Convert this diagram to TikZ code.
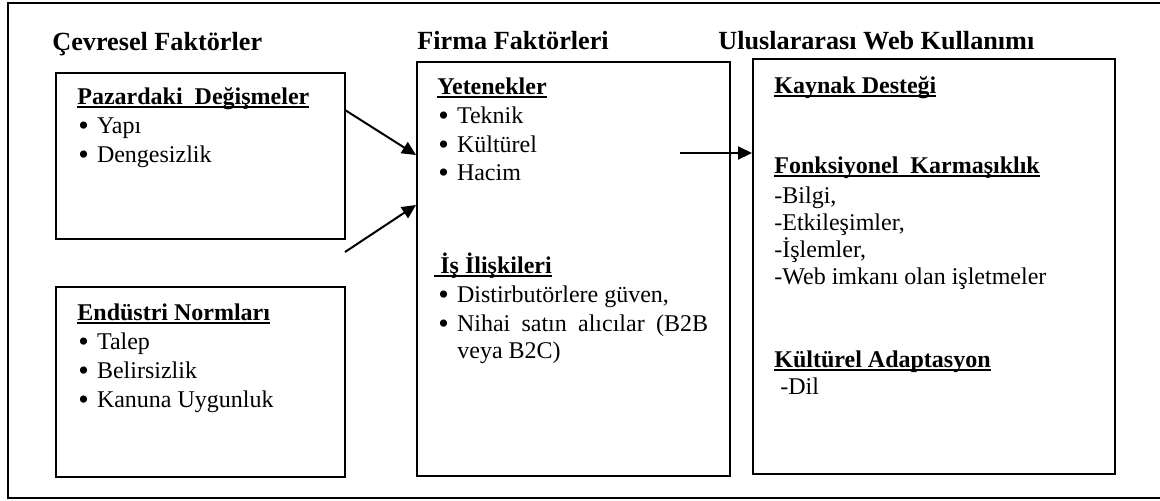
\documentclass[tikz,border=0pt]{standalone}
\usepackage{fontspec}
\setmainfont{Liberation Serif}
\usetikzlibrary{arrows.meta,fit}
\newcommand\myul[1]{\setbox0=\hbox{#1}\rlap{\rule[-2pt]{\wd0}{0.9pt}}\box0}
\newcommand\bul{\makebox[9.3pt][l]{\raisebox{-1.1pt}{\scalebox{1.25}{•}}}}
\begin{document}
\begin{tikzpicture}[x=0.5pt,y=-0.5pt,
  box/.style={draw,line width=1pt,inner sep=0pt},
  title/.style={anchor=base west,inner sep=0pt,font=\fontsize{13.1}{15}\selectfont\bfseries},
  txt/.style={anchor=base west,inner sep=0pt,font=\fontsize{12}{14}\selectfont},
  head/.style={anchor=base west,inner sep=0pt,font=\fontsize{12}{14}\selectfont\bfseries},
  arr/.style={line width=1pt,-{Triangle[length=7pt,width=6.5pt]}}]
\useasboundingbox (0,0) rectangle (1160,500);
% outer frame (right side lies beyond the picture)
\draw[line width=0.8pt] (1165,3) -- (8,3) -- (8,498) -- (1165,498);
% boxes
\node[box,fit={(56,73)(345,239)}] (b1) {};
\node[box,fit={(56,287)(345,477)}] (b2) {};
\node[box,fit={(417,62)(730,476)}] (b3) {};
\node[box,fit={(753,59)(1115,474)}] (b4) {};
% titles
\node[title] (t1) at (52,50) {Çevresel Faktörler};
\node[title] (t2) at (417,49) {Firma Faktörleri};
\node[title] (t3) at (718,49) {Uluslararası Web Kullanımı};
% box 1
\node[head] (h1) at (77,104) {\myul{Pazardaki\ \ Değişmeler}};
\node[txt] (i11) at (78,133) {\bul Yapı};
\node[txt] (i12) at (78,162) {\bul Dengesizlik};
% box 2
\node[head] (h2) at (77,320) {\myul{Endüstri Normları}};
\node[txt] (i21) at (78,349) {\bul Talep};
\node[txt] (i22) at (78,378) {\bul Belirsizlik};
\node[txt] (i23) at (78,407) {\bul Kanuna Uygunluk};
% box 3
\node[head] (h3) at (437,94) {\myul{Yetenekler}};
\node[txt] (i31) at (438,123) {\bul Teknik};
\node[txt] (i32) at (438,152) {\bul Kültürel};
\node[txt] (i33) at (438,180) {\bul Hacim};
\node[head] (h4) at (434,273) {\myul{ İş İlişkileri}};
\node[txt] (i34) at (438,302) {\bul Distirbutörlere güven,};
\node[txt] (i35) at (438,331) {\bul\makebox[125.5pt][s]{Nihai satın alıcılar (B2B}};
\node[txt] (i36) at (457,358) {veya B2C)};
% box 4
\node[head] (h5) at (774,93) {\myul{Kaynak Desteği}};
\node[head] (h6) at (774,173) {\myul{Fonksiyonel\ \ Karmaşıklık}};
\node[txt] (i41) at (774,203) {-Bilgi,};
\node[txt] (i42) at (774,230) {-Etkileşimler,};
\node[txt] (i43) at (774,257) {-İşlemler,};
\node[txt] (i44) at (774,284) {-Web imkanı olan işletmeler};
\node[head] (h7) at (774,367) {\myul{Kültürel Adaptasyon}};
\node[txt] (i45) at (780,394) {-Dil};
% arrows
\coordinate (s1) at (345,110);
\coordinate (e1) at (417,155);
\coordinate (s2) at (345,252);
\coordinate (e2) at (417,205);
\coordinate (s3) at (680,153);
\draw[arr] (s1) -- (b3.west |- e1);
\draw[arr] (s2) -- (b3.west |- e2);
\draw[arr] (s3) -- (b4.west |- s3);
\end{tikzpicture}
\end{document}
